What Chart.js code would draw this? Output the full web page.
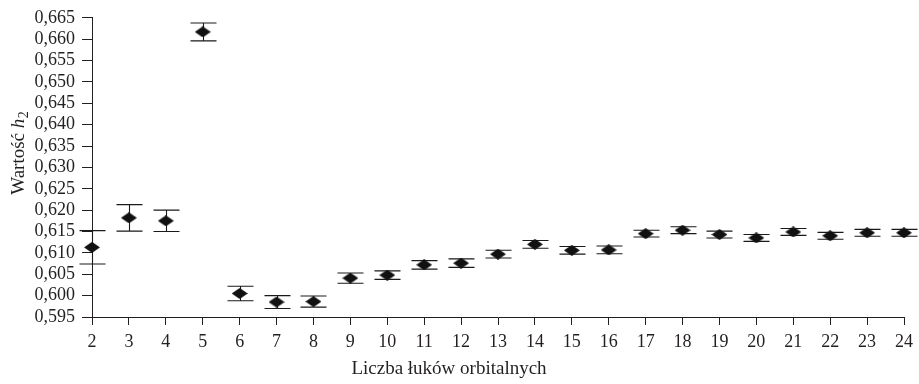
<!DOCTYPE html>
<html>
<head>
<meta charset="utf-8">
<script src="https://cdn.jsdelivr.net/npm/chart.js@4/dist/chart.umd.min.js"></script>
<style>
  html, body { margin: 0; padding: 0; background: #fff; }
  canvas { display: block; }
</style>
</head>
<body>
<canvas id="c" width="919" height="384"></canvas>
<script>
// Number of orbital arcs used in each solution
const arcCounts = [2, 3, 4, 5, 6, 7, 8, 9, 10, 11, 12, 13, 14, 15, 16, 17, 18, 19, 20, 21, 22, 23, 24];
// Estimated Love number h2 for each solution
const h2Values = [0.6113, 0.6182, 0.6175, 0.6617, 0.6005, 0.5985, 0.5986, 0.6041, 0.6048, 0.6072,
                  0.6076, 0.6097, 0.6120, 0.6106, 0.6107, 0.6145, 0.6153, 0.6143, 0.6135, 0.6149,
                  0.6140, 0.6147, 0.6147];
// Formal error of h2 (half-length of each error bar)
const h2Errors = [0.0039, 0.0031, 0.0025, 0.0021, 0.0017, 0.0015, 0.0013, 0.0012, 0.0010, 0.0010,
                  0.0010, 0.0009, 0.0009, 0.0009, 0.0009, 0.0008, 0.0008, 0.0008, 0.0008, 0.0008,
                  0.0008, 0.0008, 0.0008];
// Value axis tick positions
const yTickValues = [0.595, 0.600, 0.605, 0.610, 0.615, 0.620, 0.625, 0.630, 0.635, 0.640,
                     0.645, 0.650, 0.655, 0.660, 0.665];

const xTitle = 'Liczba łuków orbitalnych';
const yTitleMain = 'Wartość ';
const yTitleSymbol = 'h';
const yTitleIndex = '2';

const INK = '#231f20';
const SERIF = "'Liberation Serif', 'DejaVu Serif', serif";

// Filled diamond marker, wider than tall
const marker = document.createElement('canvas');
marker.width = 16; marker.height = 11;
(function () {
  const g = marker.getContext('2d');
  g.fillStyle = '#111';
  g.beginPath();
  g.moveTo(0, 5.5); g.lineTo(8, 0); g.lineTo(16, 5.5); g.lineTo(8, 11);
  g.closePath();
  g.fill();
})();

// Vertical error bars with horizontal caps, drawn beneath the markers
const errorBars = {
  id: 'errorBars',
  beforeDatasetsDraw(chart) {
    const { ctx, scales: { x, y } } = chart;
    ctx.save();
    ctx.strokeStyle = '#1a1a1a';
    ctx.lineWidth = 1.1;
    arcCounts.forEach((n, i) => {
      const px = Math.round(x.getPixelForValue(n)) + 0.5;
      const top = y.getPixelForValue(h2Values[i] + h2Errors[i]);
      const bot = y.getPixelForValue(h2Values[i] - h2Errors[i]);
      ctx.beginPath();
      ctx.moveTo(px, top); ctx.lineTo(px, bot);
      ctx.moveTo(px - 13, top); ctx.lineTo(px + 13, top);
      ctx.moveTo(px - 13, bot); ctx.lineTo(px + 13, bot);
      ctx.stroke();
    });
    ctx.restore();
  }
};

// Axis titles (the value axis title carries an italic symbol with a subscript)
const axisTitles = {
  id: 'axisTitles',
  afterDraw(chart) {
    const { ctx } = chart;
    ctx.save();
    ctx.fillStyle = INK;
    ctx.textBaseline = 'middle';
    ctx.textAlign = 'center';
    ctx.font = '19px ' + SERIF;
    ctx.fillText(xTitle, 449, 369);

    const fMain = '19px ' + SERIF;
    const fSym = 'italic 19px ' + SERIF;
    const fIdx = '14px ' + SERIF;
    ctx.font = fMain; const w1 = ctx.measureText(yTitleMain).width;
    ctx.font = fSym;  const w2 = ctx.measureText(yTitleSymbol).width;
    ctx.font = fIdx;  const w3 = ctx.measureText(yTitleIndex).width;
    const total = w1 + w2 + w3 + 0.5;
    ctx.translate(18, 153);
    ctx.rotate(-Math.PI / 2);
    ctx.textAlign = 'left';
    ctx.textBaseline = 'alphabetic';
    let cx = -total / 2;
    ctx.font = fMain; ctx.fillText(yTitleMain, cx, 6); cx += w1;
    ctx.font = fSym;  ctx.fillText(yTitleSymbol, cx, 6); cx += w2 + 0.5;
    ctx.font = fIdx;  ctx.fillText(yTitleIndex, cx, 10);
    ctx.restore();
  }
};

new Chart(document.getElementById('c'), {
  type: 'scatter',
  data: {
    datasets: [{
      data: arcCounts.map((n, i) => ({ x: n, y: h2Values[i] })),
      pointStyle: marker,
      pointRadius: 8,
      pointHoverRadius: 8,
      showLine: false,
      clip: false
    }]
  },
  options: {
    responsive: false,
    animation: false,
    devicePixelRatio: 1,
    layout: { padding: { left: 0, top: 13, right: 13, bottom: 0 } },
    plugins: { legend: { display: false }, tooltip: { enabled: false } },
    scales: {
      x: {
        type: 'linear',
        min: 2, max: 24,
        afterBuildTicks: s => { s.ticks = arcCounts.map(v => ({ value: v })); },
        afterFit: s => { s.height = 67; },
        ticks: { color: INK, font: { family: SERIF, size: 18 }, padding: 6, maxRotation: 0, autoSkip: false },
        grid: { drawOnChartArea: false, drawTicks: true, tickLength: 8, color: INK, lineWidth: 1 },
        border: { display: true, color: INK, width: 1 }
      },
      y: {
        type: 'linear',
        min: 0.595, max: 0.665,
        afterBuildTicks: s => { s.ticks = yTickValues.map(v => ({ value: v })); },
        afterFit: s => { s.width = 92; },
        ticks: {
          color: INK, font: { family: SERIF, size: 18 }, padding: 7, autoSkip: false,
          callback: v => Number(v).toFixed(3).replace('.', ',')
        },
        grid: { drawOnChartArea: false, drawTicks: true, tickLength: 10, color: INK, lineWidth: 1 },
        border: { display: true, color: INK, width: 1 }
      }
    }
  },
  plugins: [errorBars, axisTitles]
});
</script>
</body>
</html>
